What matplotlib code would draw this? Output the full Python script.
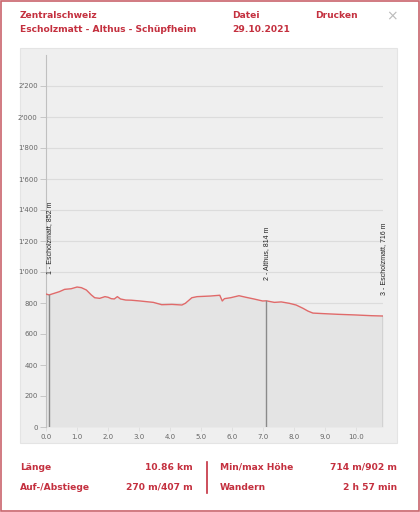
import matplotlib
matplotlib.use("Agg")
import matplotlib.pyplot as plt
from matplotlib.patches import Rectangle
from matplotlib.ticker import FuncFormatter
from matplotlib.lines import Line2D

# ---- data ----
km = [0.0, 0.1, 0.43, 0.6, 0.81, 1.0, 1.14, 1.3, 1.46, 1.57, 1.73, 1.9, 2.0, 2.1, 2.2,
      2.3, 2.4, 2.57, 2.75, 3.03, 3.46, 3.73, 4.06, 4.38, 4.49, 4.7, 4.87, 5.3, 5.6,
      5.68, 5.75, 5.95, 6.22, 6.44, 6.7, 6.98, 7.1, 7.36, 7.58, 7.84, 8.06, 8.28, 8.44,
      8.6, 8.98, 9.41, 9.95, 10.5, 10.86]
elev = [858, 852, 873, 888, 892, 903, 899, 884, 852, 834, 830, 841, 837, 828, 826,
        841, 826, 819, 818, 813, 804, 789, 791, 787, 798, 834, 841, 845, 850,
        813, 828, 834, 847, 837, 826, 813, 814, 804, 807, 798, 787, 766, 748,
        735, 731, 727, 723, 718, 716]

wp_km = [0.1, 7.1, 10.86]
wp_elev = [852, 814, 716]
wp_labels = ["1 - Escholzmatt, 852 m", "2 - Althus, 814 m", "3 - Escholzmatt, 716 m"]

x_ticks = [0, 1, 2, 3, 4, 5, 6, 7, 8, 9, 10]
y_ticks = list(range(0, 2201, 200))

header_left = ["Zentralschweiz", "Escholzmatt - Althus - Schüpfheim"]
header_mid = ["Datei", "29.10.2021"]
header_right = "Drucken"
stats_left = [("Länge", "10.86 km"), ("Auf-/Abstiege", "270 m/407 m")]
stats_right = [("Min/max Höhe", "714 m/902 m"), ("Wandern", "2 h 57 min")]

RED = "#c4303f"
W, H = 420, 512

fig = plt.figure(figsize=(W / 100, H / 100), dpi=100)
fig.patch.set_facecolor("white")

def fx(px):
    return px / W

def fy(py):
    return 1 - py / H

# outer border
fig.add_artist(Rectangle((fx(1), fy(511)), fx(418), 510 / H, transform=fig.transFigure,
                         fill=False, edgecolor="#c9646c", linewidth=1.2))
# chart panel
fig.add_artist(Rectangle((fx(20), fy(443)), fx(377), (443 - 48) / H, transform=fig.transFigure,
                         facecolor="#efefef", edgecolor="#e4e4e4", linewidth=0.8, zorder=0))

# header
fw = "bold"
fs = 6.6
fig.text(fx(20), fy(16), header_left[0], color=RED, fontsize=fs, fontweight=fw, va="center")
fig.text(fx(20), fy(29), header_left[1], color=RED, fontsize=fs, fontweight=fw, va="center")
fig.text(fx(232), fy(16), header_mid[0], color=RED, fontsize=fs, fontweight=fw, va="center")
fig.text(fx(232), fy(29), header_mid[1], color=RED, fontsize=fs, fontweight=fw, va="center")
fig.text(fx(315), fy(16), header_right, color=RED, fontsize=fs, fontweight=fw, va="center")
fig.text(fx(392), fy(16), "×", color="#bbbbbb", fontsize=10, ha="center", va="center")

# stats
for i, (lab, val) in enumerate(stats_left):
    y = fy(467 + 20 * i)
    fig.text(fx(20), y, lab, color=RED, fontsize=fs, fontweight=fw, va="center")
    fig.text(fx(193), y, val, color=RED, fontsize=fs, fontweight=fw, va="center", ha="right")
for i, (lab, val) in enumerate(stats_right):
    y = fy(467 + 20 * i)
    fig.text(fx(220), y, lab, color=RED, fontsize=fs, fontweight=fw, va="center")
    fig.text(fx(397), y, val, color=RED, fontsize=fs, fontweight=fw, va="center", ha="right")
fig.add_artist(Line2D([fx(207), fx(207)], [fy(462), fy(493)], transform=fig.transFigure,
                      color=RED, linewidth=1.2))

# axes
ax = fig.add_axes([fx(46), fy(427), fx(383 - 46), (427 - 55) / H])
ax.set_facecolor("none")
ax.set_xlim(0, 10.86)
ax.set_ylim(0, 2400)
for s in ["top", "right", "bottom"]:
    ax.spines[s].set_visible(False)
ax.spines["left"].set_color("#c0c0c0")
ax.spines["left"].set_linewidth(0.8)

ax.set_yticks(y_ticks)
ax.yaxis.set_major_formatter(FuncFormatter(lambda v, p: f"{int(v):,}".replace(",", "'")))
ax.set_xticks(x_ticks)
ax.xaxis.set_major_formatter(FuncFormatter(lambda v, p: f"{v:.1f}"))
ax.tick_params(axis="y", labelsize=5, colors="#c0c0c0", labelcolor="#666666", length=4, width=0.6, pad=2)
ax.tick_params(axis="x", labelsize=5, colors="#dddddd", labelcolor="#666666", length=3, width=0.6, pad=2)
ax.grid(axis="y", color="#dcdcdc", linewidth=0.8)
ax.set_axisbelow(True)

ax.fill_between(km, elev, 0, color="#e4e4e4", zorder=2, linewidth=0)
ax.plot(km, elev, color="#e06a6a", linewidth=1.0, zorder=3)

for xk, ye, lab in zip(wp_km, wp_elev, wp_labels):
    ax.plot([xk, xk], [0, ye], color="#8a8a8a", linewidth=1.0, zorder=4)
    ax.annotate(lab, xy=(xk, ye), xytext=(0.5, 15), textcoords="offset points",
                rotation=90, ha="center", va="bottom", fontsize=5.0, color="#222222",
                family="Liberation Sans", zorder=5)

fig.savefig("out.png", dpi=100, facecolor="white")
